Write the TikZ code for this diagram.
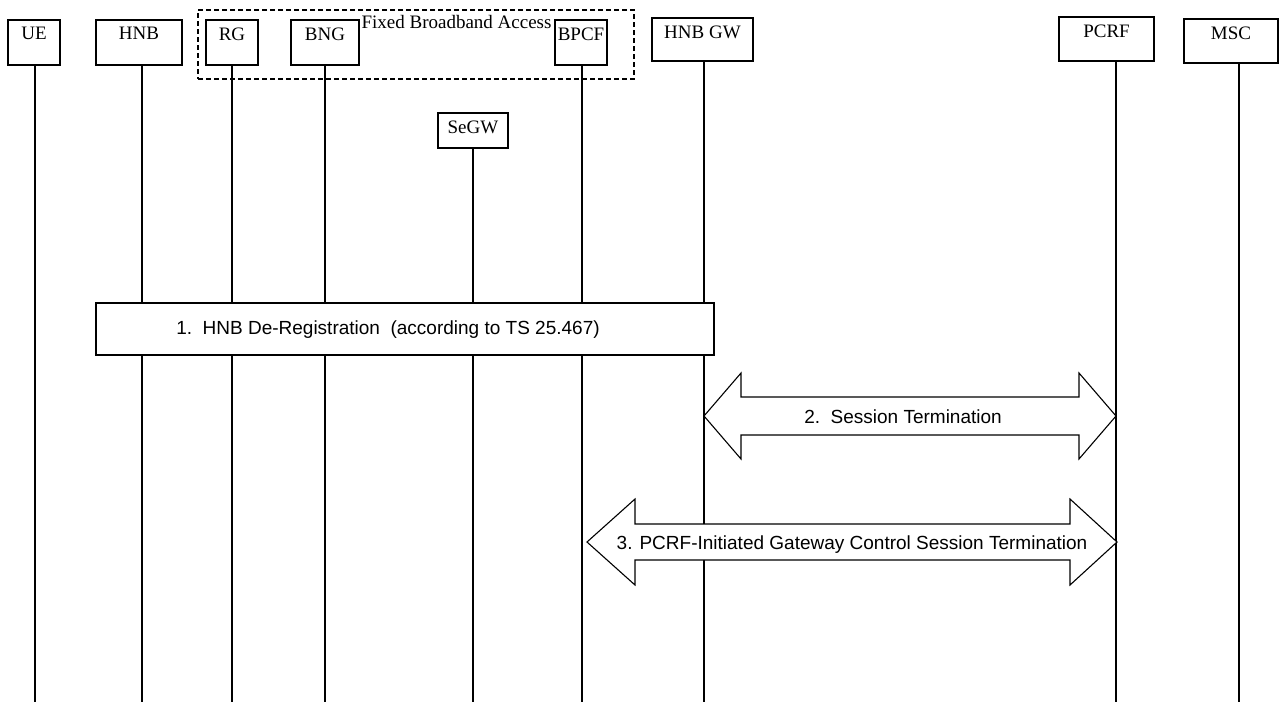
\documentclass[tikz,border=0pt]{standalone}
\usepackage{fontspec}
\setmainfont{Liberation Serif}
\newfontfamily\arialf{Liberation Sans}
\usetikzlibrary{calc}
\begin{document}
\begin{tikzpicture}[x=1pt,y=-1pt,line width=1.1pt,
  ent/.style={draw, fill=white, inner sep=0pt, outer sep=0pt, anchor=north west},
  lbl/.style={anchor=north, inner sep=0pt, font=\fontsize{19}{22}\selectfont},
  sans/.style={inner sep=0pt, anchor=base, font=\arialf\fontsize{19}{22}\selectfont},
  grp/.style={draw, dash pattern=on 5pt off 3pt, inner sep=0pt, outer sep=0pt, anchor=north west},
  blk/.style={draw, fill=white, line join=miter}]
\useasboundingbox (0,0) rectangle (1279,702);

% group box
\node[grp, minimum width=436pt, minimum height=69pt] (fba) at (198,10) {};
\node[anchor=base west, inner sep=0pt, font=\fontsize{19}{22}\selectfont] (fbat) at (361,28) {Fixed Broadband Access};

% entity boxes
\node[ent, minimum width=52pt, minimum height=45pt] (ue) at (8,20) {};
\node[ent, minimum width=86pt, minimum height=45pt] (hnb) at (96,20) {};
\node[ent, minimum width=52pt, minimum height=45pt] (rg) at (206,20) {};
\node[ent, minimum width=68pt, minimum height=45pt] (bng) at (291,20) {};
\node[ent, minimum width=52pt, minimum height=45pt] (bpcf) at (555,20) {};
\node[ent, minimum width=101pt, minimum height=43pt] (hnbgw) at (652,18) {};
\node[ent, minimum width=70pt, minimum height=35pt] (segw) at (438,113) {};
\node[ent, minimum width=95pt, minimum height=44pt] (pcrf) at (1059,17) {};
\node[ent, minimum width=94pt, minimum height=44pt] (msc) at (1184,19) {};

\node[lbl] (uet) at ([yshift=-7pt]ue.north) {UE};
\node[lbl] (hnbt) at ([yshift=-7pt]hnb.north) {HNB};
\node[lbl] (rgt) at ([yshift=-7pt]rg.north) {RG};
\node[lbl] (bngt) at ([yshift=-7pt]bng.north) {BNG};
\node[lbl] (bpcft) at ([yshift=-7pt]bpcf.north) {BPCF};
\node[lbl] (hnbgwt) at ([yshift=-7pt]hnbgw.north) {HNB GW};
\node[lbl] (segwt) at ([yshift=-7pt]segw.north) {SeGW};
\node[lbl] (pcrft) at ([yshift=-7pt]pcrf.north) {PCRF};
\node[lbl] (msct) at ([yshift=-7pt]msc.north) {MSC};

% lifelines
\coordinate (ueB) at (35,702);
\coordinate (hnbB) at (142,702);
\coordinate (rgB) at (232,702);
\coordinate (bngB) at (325,702);
\coordinate (segwB) at (473,702);
\coordinate (bpcfB) at (582,702);
\coordinate (hnbgwB) at (704,702);
\coordinate (pcrfB) at (1116,702);
\coordinate (mscB) at (1239,702);
\foreach \n in {ue,hnb,rg,bng,segw,bpcf,hnbgw,pcrf,msc}
  \draw (\n.south -| \n B) -- (\n B);

% step 1
\node[ent, minimum width=618pt, minimum height=52pt] (s1) at (96,303) {};
\node[sans] (s1t) at (388,334) {1.\ \ HNB De-Registration\ \ (according to TS 25.467)};

% step 2
\coordinate (a2l) at (704,416);
\coordinate (a2r) at (1116,416);
\draw[blk] (a2l) -- ++(37,-43) -- ++(0,24) -- ($(a2r)+(-37,-19)$) -- ++(0,-24)
  -- (a2r) -- ++(-37,43) -- ++(0,-24) -- ($(a2l)+(37,19)$) -- ++(0,24) -- cycle;
\node[sans] (s2t) at (903,423) {2.\ \ Session Termination};

% step 3
\coordinate (a3l) at (587,542);
\coordinate (a3r) at (1117,542);
\draw[blk] (a3l) -- ++(48,-43) -- ++(0,25) -- ($(a3r)+(-47,-18)$) -- ++(0,-25)
  -- (a3r) -- ++(-47,43) -- ++(0,-25) -- ($(a3l)+(48,18)$) -- ++(0,25) -- cycle;
\node[sans] (s3t) at (852,549) {3. PCRF-Initiated Gateway Control Session Termination};
\end{tikzpicture}
\end{document}
